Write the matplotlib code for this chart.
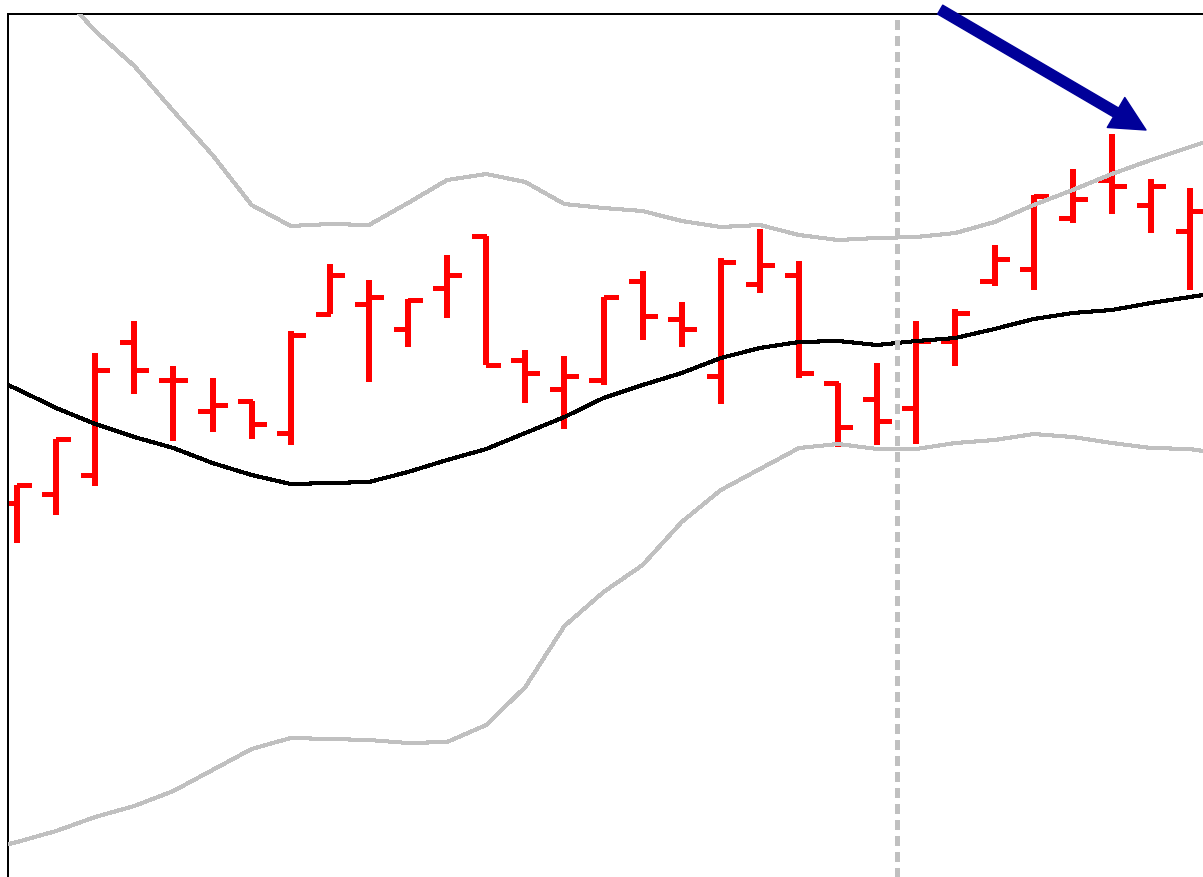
import matplotlib
matplotlib.use("Agg")
import matplotlib.pyplot as plt
import numpy as np

# Daily OHLC prices
opens = [24.85, 25.30, 26.25, 32.90, 31.00, 29.45, 29.95, 28.35, 34.30, 34.80, 33.55,
         35.60, 38.20, 32.00, 30.55, 31.00, 35.95, 34.05, 31.20, 35.80, 36.25, 30.85,
         30.05, 29.60, 32.95, 35.95, 36.55, 39.10, 41.00, 39.75, 38.45]
highs = [25.75, 28.05, 32.35, 33.95, 31.70, 31.10, 29.95, 33.45, 36.80, 36.00, 35.05,
         37.25, 38.20, 32.50, 32.20, 35.15, 36.45, 34.90, 37.10, 38.55, 36.95, 30.85,
         31.85, 33.95, 34.55, 37.75, 40.25, 41.55, 43.30, 41.05, 40.60]
lows = [22.85, 24.25, 25.70, 30.30, 27.95, 28.40, 28.05, 27.75, 34.30, 30.90, 32.65,
        34.10, 31.75, 29.85, 28.55, 30.75, 33.00, 32.65, 29.80, 35.35, 31.10, 27.65,
        27.75, 27.80, 31.70, 35.70, 35.50, 38.85, 39.30, 38.35, 35.50]
closes = [25.75, 28.05, 31.50, 31.50, 31.00, 29.75, 28.80, 33.25, 36.25, 35.15, 35.00,
          36.25, 31.75, 31.35, 31.20, 35.15, 34.20, 33.55, 36.90, 36.75, 31.35, 28.65,
          28.95, 32.95, 34.35, 37.05, 40.20, 40.05, 40.70, 40.70, 39.45]

# Bollinger band indicator, one value per session (first and last lie off-screen)
band_start = -1
middle = [31.40, 30.55, 29.60, 28.80, 28.15, 27.60, 26.85, 26.25, 25.80, 25.85, 25.90,
          26.40, 27.00, 27.55, 28.35, 29.15, 30.10, 30.75, 31.35, 32.10, 32.60, 32.90,
          32.95, 32.75, 32.95, 33.10, 33.55, 34.05, 34.35, 34.50, 34.85, 35.15, 35.45]
upper = [55.40, 53.20, 50.60, 48.45, 46.70, 44.45, 42.25, 39.75, 38.70, 38.80, 38.75,
         39.85, 41.00, 41.30, 40.90, 39.80, 39.60, 39.45, 38.95, 38.65, 38.75, 38.25,
         38.00, 38.10, 38.15, 38.35, 38.90, 39.75, 40.50, 41.30, 42.00, 42.65, 43.30]
lower = [7.40, 7.90, 8.45, 9.15, 9.70, 10.45, 11.50, 12.55, 13.10, 13.05, 13.00,
         12.85, 12.90, 13.75, 15.65, 18.70, 20.40, 21.75, 23.90, 25.50, 26.55, 27.60,
         27.80, 27.55, 27.55, 27.85, 28.00, 28.30, 28.15, 27.85, 27.60, 27.55, 27.25]

session_break = 22.5

W, H = 1203, 877
fig = plt.figure(figsize=(W / 100, H / 100), dpi=100, facecolor="white")
left_px, top_px = 8.3, 14.2
ax = fig.add_axes([left_px / W, 0, 1 - left_px / W, 1 - top_px / H])
ax.set_facecolor("white")

x = np.arange(len(opens))
band_x = np.arange(band_start, band_start + len(middle))

red = "#ff0000"
tick_len = 0.36
bars = ax.vlines(x, lows, highs, color=red, lw=4.0, zorder=2)
bars.set_capstyle("butt")
bars.set_antialiased(False)
o_ticks = ax.hlines(opens, x - tick_len, x, color=red, lw=2.4, zorder=2)
c_ticks = ax.hlines(closes, x, x + tick_len, color=red, lw=2.4, zorder=2)
for t in (o_ticks, c_ticks):
    t.set_capstyle("butt")
    t.set_antialiased(False)

band_color = "#c0c0c0"
ax.plot(band_x, upper, color=band_color, lw=2.2, antialiased=False, zorder=3)
ax.plot(band_x, lower, color=band_color, lw=2.2, antialiased=False, zorder=3)
ax.plot(band_x, middle, color="black", lw=2.2, antialiased=False, zorder=4)

ax.axvline(session_break, color=band_color, lw=3.6, dashes=(1.8, 1.2),
           antialiased=False, zorder=5)

ax.annotate("", xy=(28.875, 43.5), xytext=(23.61, 49.52), xycoords="data",
            annotation_clip=False,
            arrowprops=dict(arrowstyle="simple,head_length=25,head_width=25,tail_width=7.4",
                            mutation_scale=1, color="#000099", shrinkA=0, shrinkB=0),
            zorder=6)

ax.set_xlim((left_px - 17) / 39.1, (W - 17) / 39.1)
ax.set_ylim(50 - H / 20, 50 - top_px / 20)
ax.set_xticks([])
ax.set_yticks([])
for side in ("right", "bottom"):
    ax.spines[side].set_visible(False)
for side in ("top", "left"):
    ax.spines[side].set_linewidth(1.44)
    ax.spines[side].set_color("black")

fig.savefig("out.png", dpi=100, facecolor="white")
